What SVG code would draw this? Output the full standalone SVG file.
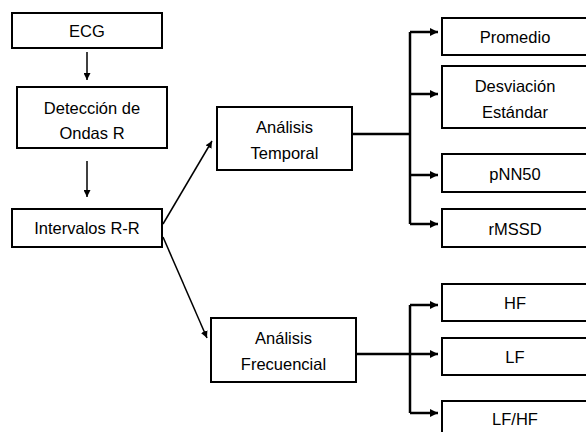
<svg xmlns="http://www.w3.org/2000/svg" width="586" height="432" viewBox="0 0 586 432">
<defs>
<style>
.box{fill:#fff;stroke:#000;stroke-width:2}
.t{font-family:"Liberation Sans",Arial,sans-serif;font-size:16.5px;fill:#000;text-anchor:middle}
.thin{stroke:#000;stroke-width:1.5;fill:none}
.thick{stroke:#000;stroke-width:2.5;fill:none}
</style>
<marker id="ah" viewBox="0 0 10 10" refX="10" refY="5" markerWidth="7" markerHeight="7" markerUnits="userSpaceOnUse" orient="auto"><path d="M0,0 L10,5 L0,10 z" fill="#000"/></marker>
<marker id="ah2" viewBox="0 0 10 10" refX="10" refY="5" markerWidth="8" markerHeight="8" markerUnits="userSpaceOnUse" orient="auto"><path d="M0,0 L10,5 L0,10 z" fill="#000"/></marker>
</defs>
<rect width="586" height="432" fill="#fff"/>
<g id="connectors">
<line class="thin" x1="87" y1="52" x2="87" y2="80" marker-end="url(#ah)"/>
<line class="thin" x1="87" y1="161" x2="87" y2="197" marker-end="url(#ah)"/>
<line class="thin" x1="163" y1="224" x2="212" y2="141" marker-end="url(#ah)"/>
<line class="thin" x1="163" y1="237" x2="207" y2="338" marker-end="url(#ah)"/>
<line class="thick" x1="352" y1="134" x2="410" y2="134"/>
<line class="thick" x1="410" y1="32" x2="410" y2="224"/>
<line class="thick" x1="410" y1="32" x2="438" y2="32" marker-end="url(#ah2)"/>
<line class="thick" x1="410" y1="94" x2="438" y2="94" marker-end="url(#ah2)"/>
<line class="thick" x1="410" y1="175" x2="438" y2="175" marker-end="url(#ah2)"/>
<line class="thick" x1="410" y1="224" x2="438" y2="224" marker-end="url(#ah2)"/>
<line class="thick" x1="356" y1="354" x2="438" y2="354" marker-end="url(#ah2)"/>
<line class="thick" x1="410" y1="305" x2="410" y2="413"/>
<line class="thick" x1="410" y1="305" x2="438" y2="305" marker-end="url(#ah2)"/>
<line class="thick" x1="410" y1="413" x2="438" y2="413" marker-end="url(#ah2)"/>
</g>
<g id="ecg"><rect class="box" x="12" y="13" width="150" height="35"/><text class="t" x="87" y="36.5">ECG</text></g>
<g id="deteccion"><rect class="box" x="17" y="87" width="150" height="61"/><text class="t" x="92" y="114">Detección de</text><text class="t" x="92" y="139">Ondas R</text></g>
<g id="intervalos"><rect class="box" x="12" y="209" width="150" height="38"/><text class="t" x="87" y="234">Intervalos R-R</text></g>
<g id="temporal"><rect class="box" x="217" y="107" width="135" height="63"/><text class="t" x="284.5" y="133">Análisis</text><text class="t" x="284.5" y="159">Temporal</text></g>
<g id="frecuencial"><rect class="box" x="211" y="318" width="145" height="64"/><text class="t" x="283.5" y="344">Análisis</text><text class="t" x="283.5" y="370">Frecuencial</text></g>
<g id="promedio"><rect class="box" x="442" y="18" width="146" height="37"/><text class="t" x="515" y="43">Promedio</text></g>
<g id="desviacion"><rect class="box" x="442" y="66" width="146" height="62"/><text class="t" x="515" y="92">Desviación</text><text class="t" x="515" y="118">Estándar</text></g>
<g id="pnn50"><rect class="box" x="442" y="154" width="146" height="38"/><text class="t" x="515" y="180">pNN50</text></g>
<g id="rmssd"><rect class="box" x="442" y="209" width="146" height="38"/><text class="t" x="515" y="235">rMSSD</text></g>
<g id="hf"><rect class="box" x="442" y="284" width="146" height="37"/><text class="t" x="515" y="309">HF</text></g>
<g id="lf"><rect class="box" x="442" y="338" width="146" height="37"/><text class="t" x="515" y="363">LF</text></g>
<g id="lfhf"><rect class="box" x="442" y="401" width="146" height="40"/><text class="t" x="515" y="425">LF/HF</text></g>
</svg>
